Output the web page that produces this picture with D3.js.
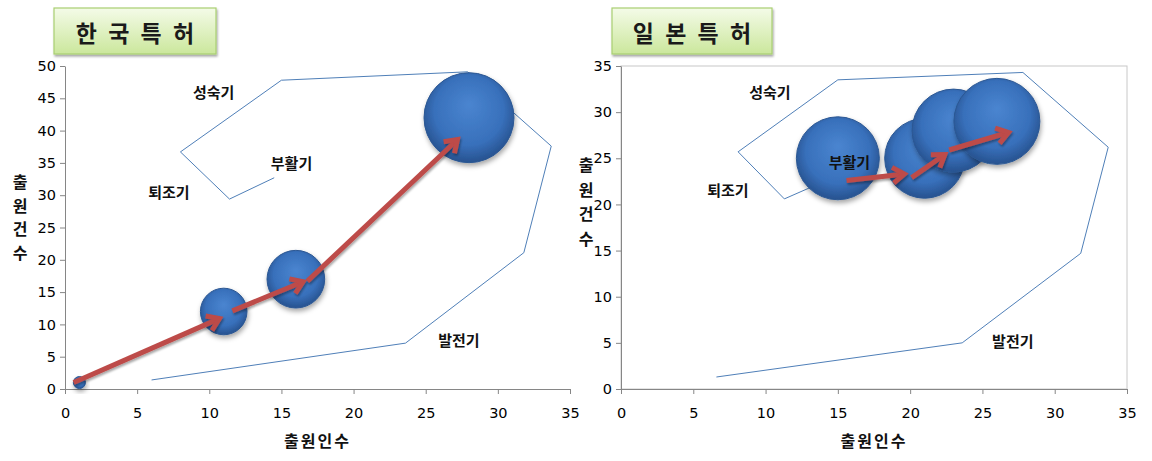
<!DOCTYPE html>
<html><head><meta charset="utf-8">
<script src="https://cdn.jsdelivr.net/npm/d3@7"></script>
<style>
html,body{margin:0;padding:0;background:#fff;}
svg{display:block;}
</style></head>
<body>
<script>
// ---- data ----
const titles = ["한 국 특 허", "일 본 특 허"];
const xTitle = "출원인수";
const yTitleChars = ["출", "원", "건", "수"];
const stageNames = ["성숙기", "부활기", "퇴조기", "발전기"];

// Korea
const krX = [1, 11, 16, 28];
const krY = [1, 12, 17, 42];
const krSize = [1, 15, 23, 56];
const krYTicks = [0,5,10,15,20,25,30,35,40,45,50];
const krOutlineX = [6.0, 23.6, 31.8, 33.7, 27.9, 15.0, 8.0, 11.4, 14.5];
const krOutlineY = [1.4, 7.1, 21.1, 37.6, 49.1, 47.8, 36.7, 29.4, 32.7];
const krArrowFrom = [[0.6, 1.0], [11.6, 12.1], [16.8, 16.7]];
const krArrowTo   = [[10.7, 10.9], [16.5, 16.6], [27.2, 38.6]];
const krLabelX = [10.3, 15.7, 7.2, 27.3];
const krLabelY = [46.1, 35.1, 30.5, 7.6];

// Japan
const jpX = [15, 21, 23, 26];
const jpY = [25, 25, 28, 29];
const jpSize = [27, 25, 27, 29];
const jpYTicks = [0,5,10,15,20,25,30,35];
const jpOutlineX = [6.6, 23.6, 31.8, 33.7, 27.8, 15.0, 8.1, 11.3, 14.5];
const jpOutlineY = [1.3, 5.0, 14.7, 26.2, 34.3, 33.5, 25.7, 20.6, 22.8];
const jpArrowFrom = [[15.6, 22.6], [20.1, 22.9], [22.7, 25.9]];
const jpArrowTo   = [[19.6, 23.3], [22.4, 25.4], [26.8, 27.8]];
const jpLabelX = [10.3, 15.8, 7.4, 27.1];
const jpLabelY = [32.2, 24.7, 21.6, 5.3];

const xTicks = [0,5,10,15,20,25,30,35];

// ---- drawing ----
const svg = d3.select("body").append("svg").attr("width",1152).attr("height",461);
const defs = svg.append("defs");

const bg = defs.append("radialGradient").attr("id","bub")
  .attr("cx","50%").attr("cy","45%").attr("r","55%").attr("fx","50%").attr("fy","35%");
bg.append("stop").attr("offset","0%").attr("stop-color","#4a85d0");
bg.append("stop").attr("offset","70%").attr("stop-color","#3870bb");
bg.append("stop").attr("offset","100%").attr("stop-color","#27528f");

const tg = defs.append("linearGradient").attr("id","titleg").attr("x1",0).attr("y1",0).attr("x2",0).attr("y2",1);
tg.append("stop").attr("offset","0%").attr("stop-color","#f4fbe8");
tg.append("stop").attr("offset","100%").attr("stop-color","#cbe79c");

const sh = defs.append("filter").attr("id","shadow").attr("x","-30%").attr("y","-30%").attr("width","160%").attr("height","170%");
sh.append("feDropShadow").attr("dx",1).attr("dy",3).attr("stdDeviation",2.5)
  .attr("flood-color","#000").attr("flood-opacity",0.35);
const sh2 = defs.append("filter").attr("id","ashadow").attr("x","-30%").attr("y","-30%").attr("width","160%").attr("height","170%");
sh2.append("feDropShadow").attr("dx",1).attr("dy",2).attr("stdDeviation",1.2)
  .attr("flood-color","#000").attr("flood-opacity",0.35);

function drawChart(cfg){
  const g = svg.append("g");
  const x = d3.scaleLinear().domain([0,35]).range([cfg.x0, cfg.x1]);
  const y = d3.scaleLinear().domain([0,cfg.yMax]).range([389, 66]);
  const r = d3.scaleSqrt().domain([0, d3.max(cfg.size)]).range([0, cfg.rMax]);

  // title box
  const tb = g.append("g");
  tb.append("rect").attr("x",cfg.tbx).attr("y",8).attr("width",cfg.tbw).attr("height",46)
    .attr("fill","url(#titleg)").attr("stroke","#a9cf72").attr("stroke-width",1.2)
    .attr("filter","url(#ashadow)");
  tb.append("text").attr("x",cfg.tbx+cfg.tbw/2+1).attr("y",32).attr("text-anchor","middle")
    .attr("dominant-baseline","central")
    .attr("font-family","'Noto Sans CJK KR'").attr("font-weight","bold").attr("font-size",23)
    .attr("letter-spacing",2).attr("word-spacing",2)
    .attr("fill","#1a1a1a").text(cfg.title);

  // frame
  if (cfg.frame) {
    g.append("rect").attr("x",cfg.x0).attr("y",66).attr("width",cfg.x1-cfg.x0).attr("height",323)
      .attr("fill","none").attr("stroke","#c8c8c8").attr("stroke-width",1);
  }

  // axes
  const xa = g.append("g").attr("transform","translate(0,389)")
    .call(d3.axisBottom(x).tickValues(xTicks).tickSize(5).tickPadding(14).tickSizeOuter(0));
  const ya = g.append("g").attr("transform",`translate(${cfg.x0},0)`)
    .call(d3.axisLeft(y).tickValues(cfg.yTicks).tickSize(5).tickPadding(4).tickSizeOuter(0));
  [xa, ya].forEach(a => {
    a.select(".domain").attr("stroke","#868686");
    a.selectAll(".tick line").attr("stroke","#868686");
    a.selectAll("text").attr("font-family","'DejaVu Sans'").attr("font-size",14.5).attr("fill","#000");
  });

  // outline
  const pts = cfg.ox.map((v,i)=>[v, cfg.oy[i]]);
  g.append("path").attr("d", d3.line().x(d=>x(d[0])).y(d=>y(d[1]))(pts))
    .attr("fill","none").attr("stroke","#4f7fb8").attr("stroke-width",1);

  // bubbles
  const bubbles = cfg.bx.map((v,i)=>({x:v, y:cfg.by[i], s:cfg.size[i]}));
  g.append("g").selectAll("circle").data(bubbles).join("circle")
    .attr("cx",d=>x(d.x)).attr("cy",d=>y(d.y)).attr("r",d=>r(d.s))
    .attr("fill","url(#bub)").attr("stroke","#2b5793").attr("stroke-width",1)
    .attr("filter","url(#shadow)");

  // stage labels
  g.append("g").selectAll("text").data(stageNames).join("text")
    .attr("x",(d,i)=>x(cfg.lx[i])).attr("y",(d,i)=>y(cfg.ly[i]))
    .attr("text-anchor","middle").attr("dominant-baseline","central")
    .attr("font-family","'Noto Sans CJK KR'").attr("font-weight","bold").attr("font-size",15)
    .attr("fill","#111").text(d=>d);

  // arrows
  const ag = g.append("g").attr("filter","url(#ashadow)");
  cfg.af.forEach((f,i) => {
    const t = cfg.at[i];
    const x1 = x(f[0]), y1 = y(f[1]), x2 = x(t[0]), y2 = y(t[1]);
    const ang = Math.atan2(y2-y1, x2-x1);
    const L = 14, W = 0.6;
    const w1 = [x2 - L*Math.cos(ang-W), y2 - L*Math.sin(ang-W)];
    const w2 = [x2 - L*Math.cos(ang+W), y2 - L*Math.sin(ang+W)];
    ag.append("line").attr("x1",x1).attr("y1",y1).attr("x2",x2-2*Math.cos(ang)).attr("y2",y2-2*Math.sin(ang))
      .attr("stroke","#bd4b48").attr("stroke-width",5);
    ag.append("path").attr("d",`M${w1[0]},${w1[1]}L${x2},${y2}L${w2[0]},${w2[1]}`)
      .attr("fill","none").attr("stroke","#bd4b48").attr("stroke-width",5)
      .attr("stroke-linejoin","miter").attr("stroke-linecap","butt");
  });

  // axis titles
  g.append("text").attr("x",(cfg.x0+cfg.x1)/2).attr("y",440).attr("text-anchor","middle")
    .attr("dominant-baseline","central")
    .attr("font-family","'Noto Sans CJK KR'").attr("font-weight","bold").attr("font-size",16)
    .attr("letter-spacing",2).attr("fill","#111").text(xTitle);
  g.append("g").selectAll("text").data(yTitleChars).join("text")
    .attr("x",cfg.ytx).attr("y",(d,i)=>cfg.yty + i*cfg.ytStep)
    .attr("text-anchor","middle").attr("dominant-baseline","central")
    .attr("font-family","'Noto Sans CJK KR'").attr("font-weight","bold").attr("font-size",16)
    .attr("fill","#111").text(d=>d);
}

drawChart({
  title: titles[0], tbx: 54, tbw: 162, x0: 65, x1: 570, yMax: 50, yTicks: krYTicks,
  bx: krX, by: krY, size: krSize, rMax: 45, ox: krOutlineX, oy: krOutlineY,
  af: krArrowFrom, at: krArrowTo, lx: krLabelX, ly: krLabelY, frame: false,
  ytx: 20, yty: 181, ytStep: 23.5
});
drawChart({
  title: titles[1], tbx: 612, tbw: 160, x0: 621, x1: 1127, yMax: 35, yTicks: jpYTicks,
  bx: jpX, by: jpY, size: jpSize, rMax: 43, ox: jpOutlineX, oy: jpOutlineY,
  af: jpArrowFrom, at: jpArrowTo, lx: jpLabelX, ly: jpLabelY, frame: true,
  ytx: 586, yty: 164, ytStep: 24.5
});
</script>
</body></html>
